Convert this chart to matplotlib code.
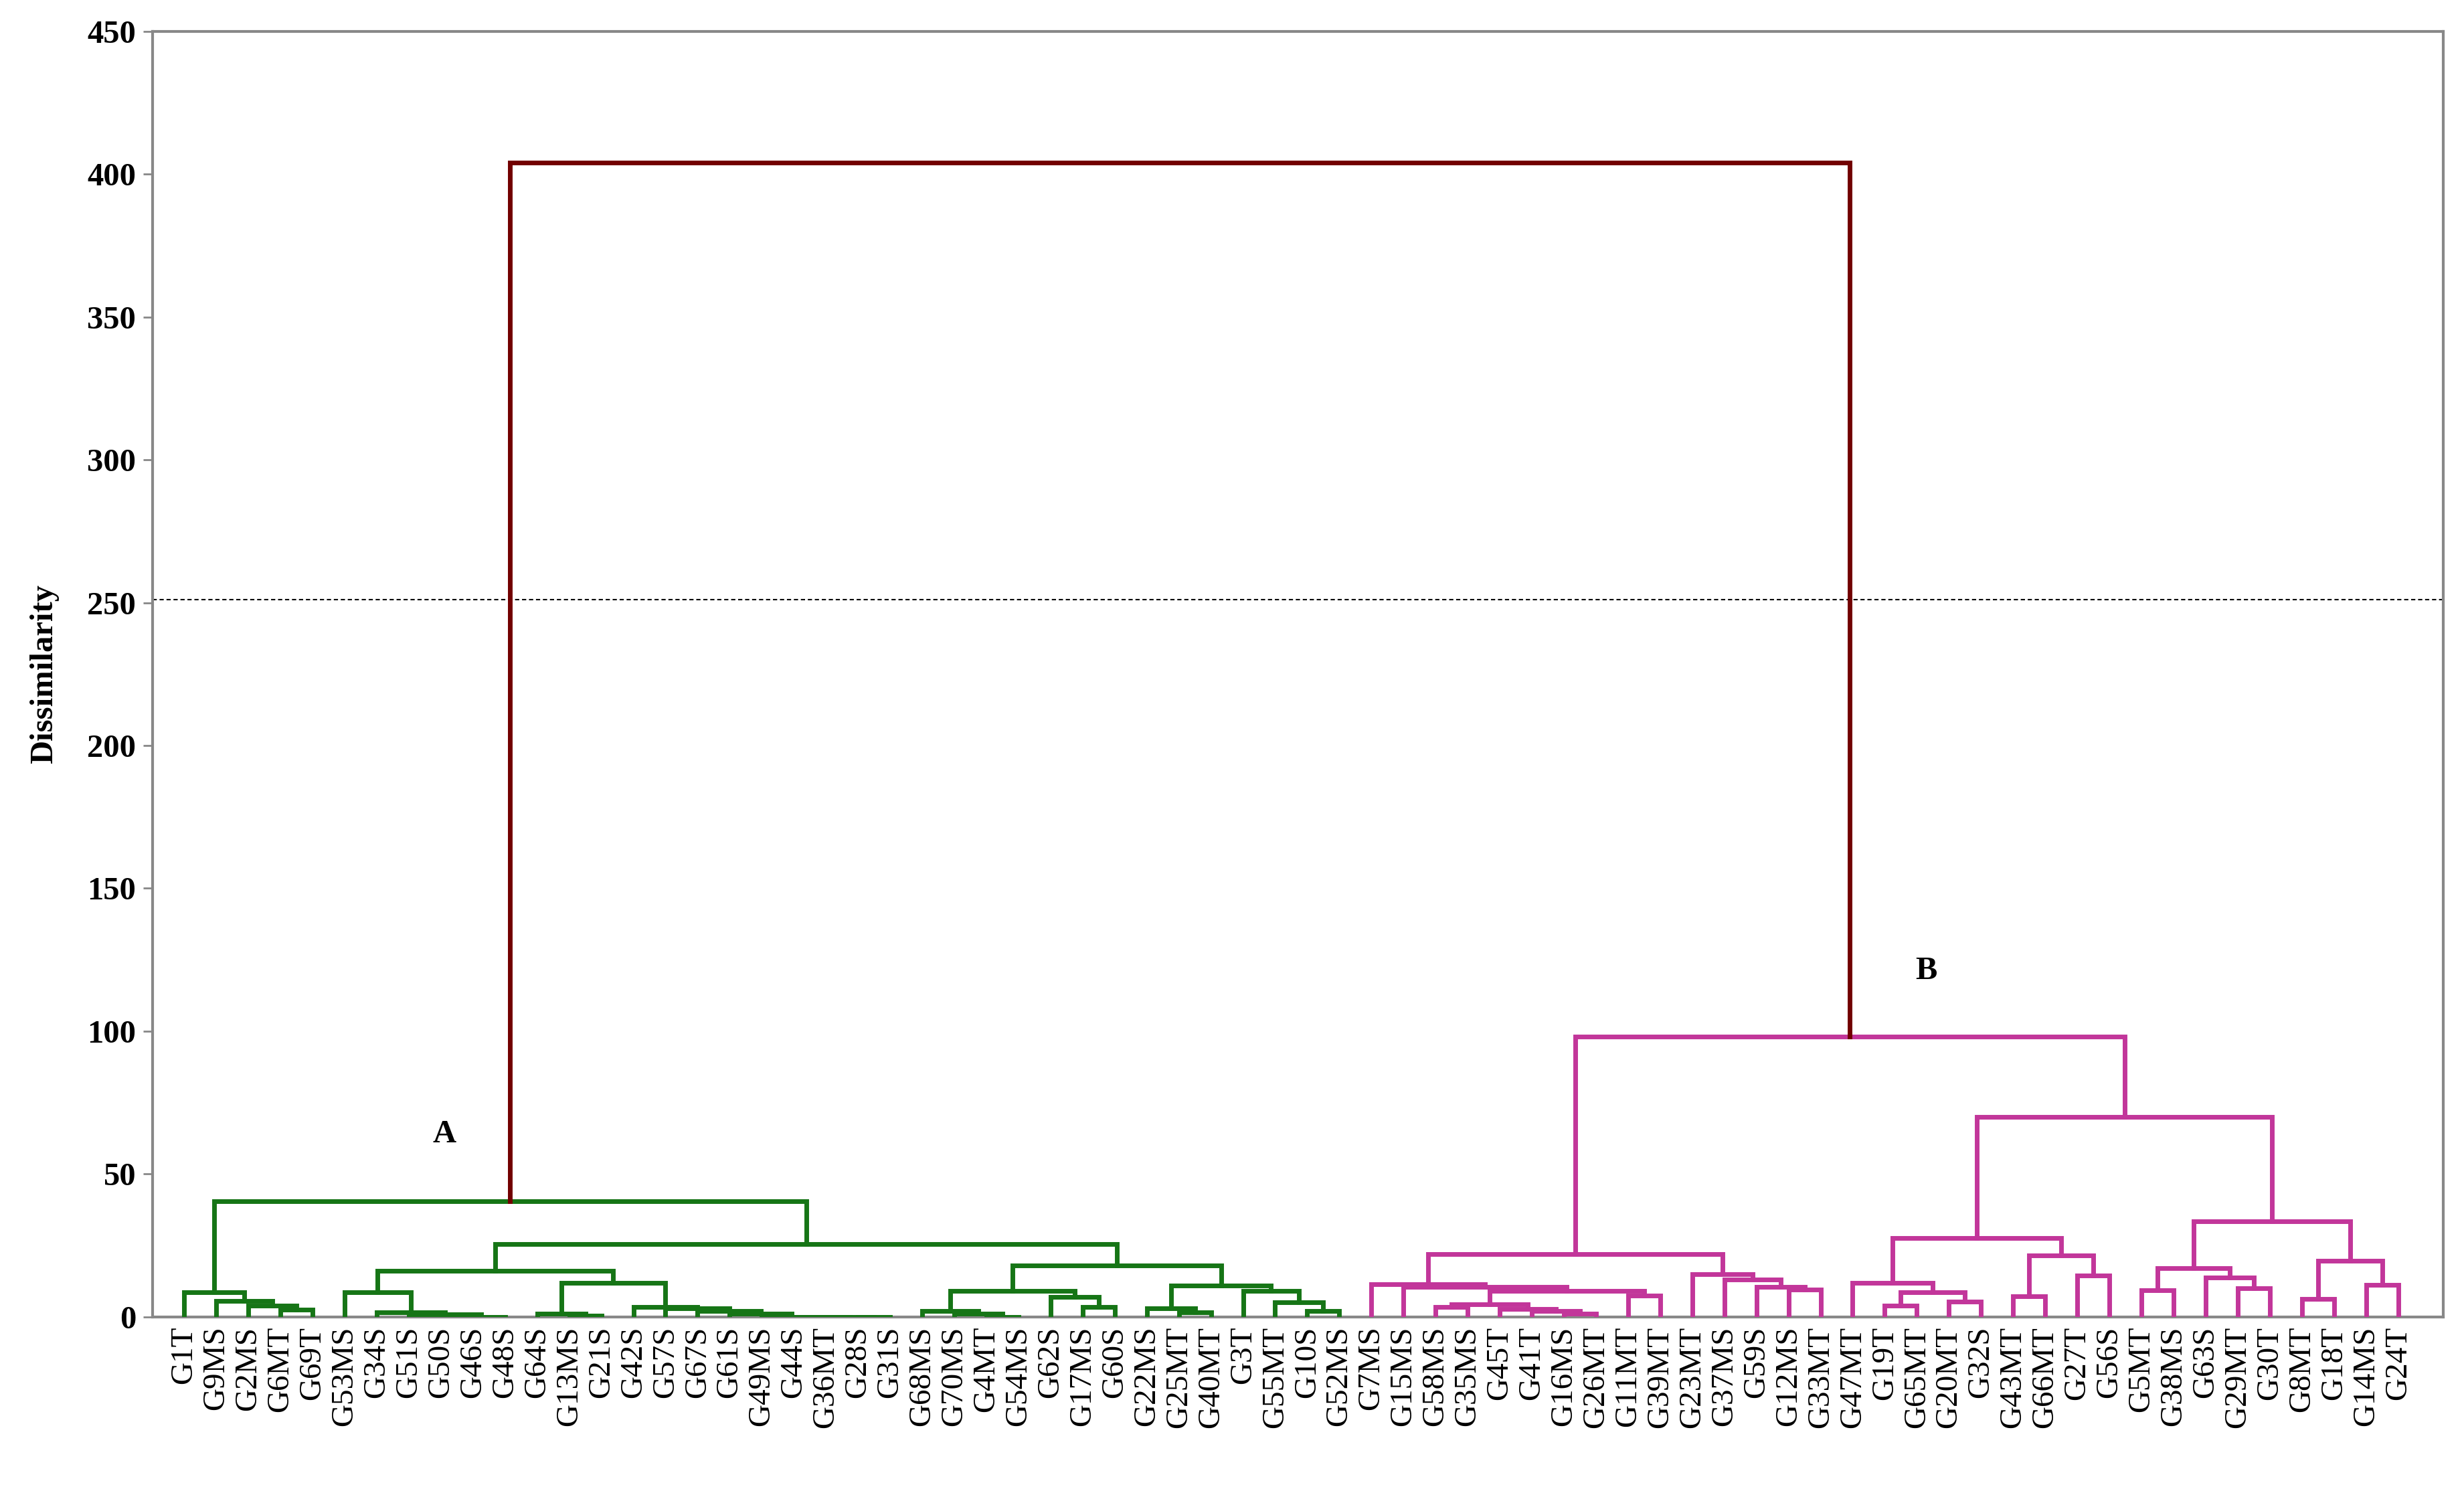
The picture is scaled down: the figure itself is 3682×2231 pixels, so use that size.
import matplotlib.pyplot as plt

# leaf order along the x axis
labels_a = ["G1T", "G9MS", "G2MS", "G6MT", "G69T", "G53MS", "G34S", "G51S", "G50S", "G46S",
            "G48S", "G64S", "G13MS", "G21S", "G42S", "G57S", "G67S", "G61S", "G49MS", "G44S",
            "G36MT", "G28S", "G31S", "G68MS", "G70MS", "G4MT", "G54MS", "G62S", "G17MS", "G60S",
            "G22MS", "G25MT", "G40MT", "G3T", "G55MT", "G10S", "G52MS"]
labels_b = ["G7MS", "G15MS", "G58MS", "G35MS", "G45T", "G41T", "G16MS", "G26MT", "G11MT", "G39MT",
            "G23MT", "G37MS", "G59S", "G12MS", "G33MT", "G47MT", "G19T", "G65MT", "G20MT", "G32S",
            "G43MT", "G66MT", "G27T", "G56S", "G5MT", "G38MS", "G63S", "G29MT", "G30T", "G8MT",
            "G18T", "G14MS", "G24T"]

# merges: (new node, left, right, dissimilarity)
merges_a = [
    ("a1", "G6MT", "G69T", 2.5), ("a2", "G2MS", "a1", 4), ("a3", "G9MS", "a2", 5.5),
    ("a4", "G1T", "a3", 8.5),
    ("a5", "G50S", "G46S", 0), ("a6", "a5", "G48S", 0), ("a7", "G51S", "a6", 0.8),
    ("a8", "G34S", "a7", 1.5), ("a9", "G53MS", "a8", 8.5),
    ("a10", "G13MS", "G21S", 0.5), ("a11", "G64S", "a10", 1),
    ("a12", "G28S", "G31S", 0), ("a13", "G36MT", "a12", 0), ("a14", "G44S", "a13", 0),
    ("a15", "G49MS", "a14", 0), ("a16", "G61S", "a15", 1), ("a17", "G67S", "a16", 2),
    ("a18", "G57S", "a17", 3), ("a19", "G42S", "a18", 3.5),
    ("a20", "a11", "a19", 12), ("a21", "a9", "a20", 16),
    ("a22", "G4MT", "G54MS", 0), ("a23", "G70MS", "a22", 1), ("a24", "G68MS", "a23", 2),
    ("a25", "G17MS", "G60S", 3.5), ("a26", "G62S", "a25", 7), ("a27", "a24", "a26", 9),
    ("a28", "G25MT", "G40MT", 1.5), ("a29", "G22MS", "a28", 3),
    ("a30", "G10S", "G52MS", 2), ("a31", "G55MT", "a30", 5), ("a32", "G3T", "a31", 9),
    ("a33", "a29", "a32", 11), ("a34", "a27", "a33", 18),
    ("a35", "a21", "a34", 25.5), ("A", "a4", "a35", 40.5),
]
merges_b = [
    ("b1", "G16MS", "G26MT", 1.2), ("b2", "G41T", "b1", 2), ("b3", "G45T", "b2", 2.7),
    ("b4", "G58MS", "G35MS", 3.5), ("b5", "b4", "b3", 4.5), ("b6", "G11MT", "G39MT", 7.5),
    ("b7", "b5", "b6", 9), ("b8", "G15MS", "b7", 10.5), ("b9", "G7MS", "b8", 11.5),
    ("b10", "G12MS", "G33MT", 9.5), ("b11", "G59S", "b10", 10.5), ("b12", "G37MS", "b11", 13),
    ("b13", "G23MT", "b12", 15), ("b14", "b9", "b13", 22),
    ("b15", "G19T", "G65MT", 4), ("b16", "G20MT", "G32S", 5.3), ("b17", "b15", "b16", 8.5),
    ("b18", "G47MT", "b17", 11.8), ("b19", "G43MT", "G66MT", 7.2), ("b20", "G27T", "G56S", 14.5),
    ("b21", "b19", "b20", 21.4), ("b22", "b18", "b21", 27.6),
    ("b23", "G5MT", "G38MS", 9.2), ("b24", "G29MT", "G30T", 9.9), ("b25", "G63S", "b24", 13.8),
    ("b26", "b23", "b25", 17), ("b27", "G8MT", "G18T", 6.2), ("b28", "G14MS", "G24T", 11.2),
    ("b29", "b27", "b28", 19.7), ("b30", "b26", "b29", 33.5),
    ("b31", "b22", "b30", 70), ("B", "b14", "b31", 98),
]
root = ("root", "A", "B", 404)
cut_level = 251

labels = labels_a + labels_b
nodes = {name: (i, 0.0) for i, name in enumerate(labels)}

fig = plt.figure(figsize=(36.82, 22.31), dpi=100)
ax = fig.add_axes([0.062, 0.118, 0.9295, 0.861])

def draw(merges, color):
    for name, left, right, h in merges:
        xl, hl = nodes[left]
        xr, hr = nodes[right]
        ax.plot([xl, xl, xr, xr], [hl, h, h, hr], color=color, lw=5,
                solid_joinstyle='miter', zorder=3)
        nodes[name] = ((xl + xr) / 2, h)

draw(merges_a, '#167516')
draw(merges_b, '#c2369a')
draw([root], '#720000')

ax.axhline(cut_level, color='black', lw=1.5, ls=(0, (3, 2)), zorder=2)

serif = ['Liberation Serif', 'DejaVu Serif']
ax.set_xlim(-0.98, 70.4)
ax.set_ylim(0, 450)
ax.set_yticks(range(0, 451, 50))
ax.set_yticklabels([str(v) for v in range(0, 451, 50)], fontsize=35,
                   fontweight='bold', family=serif)
ax.set_xticks(range(len(labels)))
ax.set_xticklabels(labels, rotation=90, fontsize=34, family=serif)
ax.tick_params(axis='x', length=0, pad=10)
ax.tick_params(axis='y', length=10, width=2, color='#888888', pad=8)
for s in ax.spines.values():
    s.set_color('#888888')
    s.set_linewidth(3)
ax.set_ylabel('Dissimilarity', fontsize=35, fontweight='bold', family=serif, labelpad=30)

ax.text(8.1, 64, 'A', fontsize=35, fontweight='bold', family=serif, ha='center', va='center')
ax.text(54.3, 121, 'B', fontsize=35, fontweight='bold', family=serif, ha='center', va='center')

fig.savefig('out.png', dpi=100)
